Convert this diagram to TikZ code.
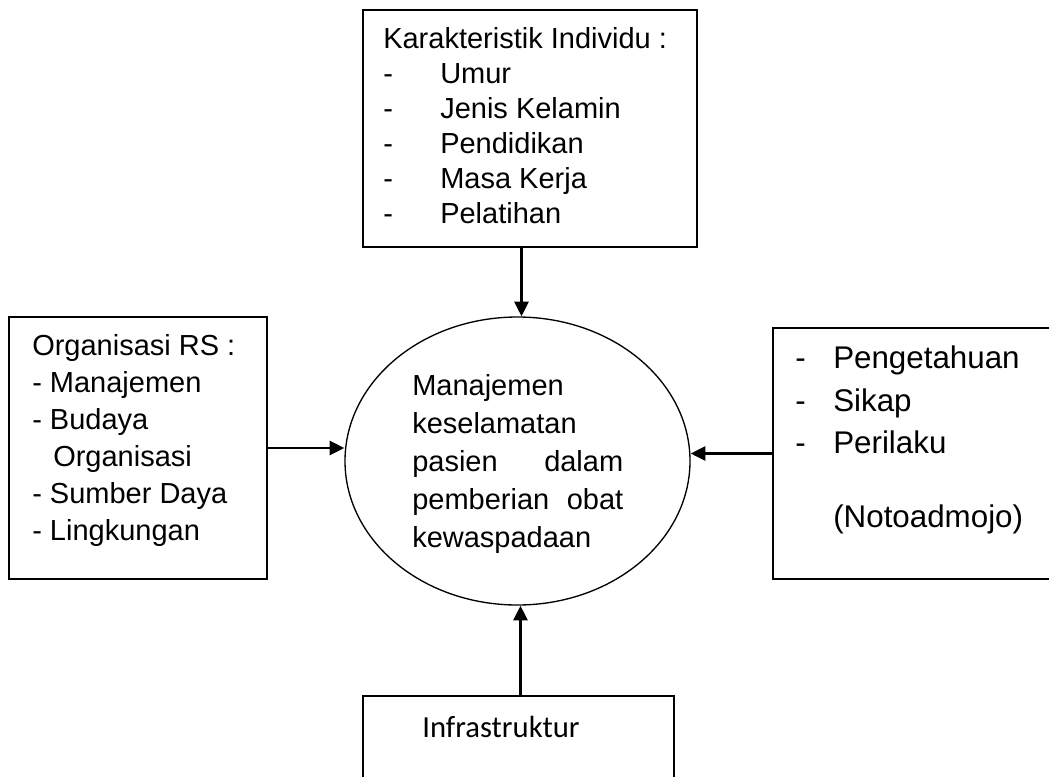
\documentclass[tikz,border=0pt]{standalone}
\usepackage{fontspec}
\setmainfont{Liberation Sans}
\newfontfamily\calibri{Carlito}
\usetikzlibrary{positioning}
\usetikzlibrary{calc,arrows.meta}
\usetikzlibrary{shapes.geometric}

\newcommand{\butir}[2]{\makebox[#1][l]{-}#2}

\tikzset{
	kotak/.style={draw=black, line width=1.5pt, rectangle, inner sep=0pt},
	teks/.style={anchor=north west, inner sep=0pt, align=left},
	panah/.style={-{Triangle[length=11pt,width=10.5pt]}, line width=2pt},
}

\begin{document}
\begin{tikzpicture}[x=0.75pt,y=-0.75pt]
			\useasboundingbox (0,0) rectangle (1049,776);
			\clip (0,0) rectangle (1049,776);
			% kotak-kotak
			\node[kotak, minimum width=250.5pt, minimum height=177.75pt] (karakter) at (530,128.5) {};
			\node[kotak, minimum width=193.5pt, minimum height=196.5pt] (organisasi) at (138,448) {};
			\node[kotak, minimum width=215.25pt, minimum height=188.25pt] (perilaku) at (916.5,453.5) {};
			\node[kotak, minimum width=233.25pt, minimum height=78pt] (infra) at (518.5,748) {};
			\node[ellipse, draw=black, line width=1pt, minimum width=258.75pt, minimum height=216pt, inner sep=0pt] (pusat) at (517.5,461) {};
			% isi
			\node[teks, font=\fontsize{21.75}{26.25}\selectfont] (teksKarakter) at (383,27.5) {Karakteristik Individu :\\ \butir{42.75pt}{Umur}\\ \butir{42.75pt}{Jenis Kelamin}\\ \butir{42.75pt}{Pendidikan}\\ \butir{42.75pt}{Masa Kerja}\\ \butir{42.75pt}{Pelatihan}};
			\node[teks, font=\fontsize{21.75}{27.75}\selectfont] (teksOrganisasi) at (32,334.5) {Organisasi RS :\\ - Manajemen\\ - Budaya\\ \hspace*{15.75pt}Organisasi\\ - Sumber Daya\\ - Lingkungan};
			\node[teks, font=\fontsize{23.5}{31.9}\selectfont] (teksPerilaku) at (795,345.5) {\butir{28.5pt}{Pengetahuan}\\ \butir{28.5pt}{Sikap}\\ \butir{28.5pt}{Perilaku}\\[23.6pt] \hspace*{28.5pt}(Notoadmojo)};
			\node[teks, text width=158.25pt, font=\fontsize{21.75}{28.5}\selectfont] (teksPusat) at (412,374.5) {Manajemen\\ keselamatan\\ \makebox[158.25pt][s]{pasien\hfill dalam}\\ \makebox[158.25pt][s]{pemberian\hfill obat}\\ kewaspadaan};
			\node[anchor=base west, inner sep=0pt, font=\calibri\fontsize{23}{28}\selectfont] (teksInfra) at (422,737) {Infrastruktur};
			% panah
			\draw[panah] ($(pusat.north |- karakter.south)+(4,0)$) -- ($(pusat.north)+(4,0)$);
			\draw[panah] (organisasi.east) -- (pusat.west |- organisasi.east);
			\draw[panah] (perilaku.west) -- (pusat.east |- perilaku.west);
			\draw[panah] ($(pusat.south |- infra.north)+(3,0)$) -- ($(pusat.south)+(3,0)$);
		\end{tikzpicture}
\end{document}
